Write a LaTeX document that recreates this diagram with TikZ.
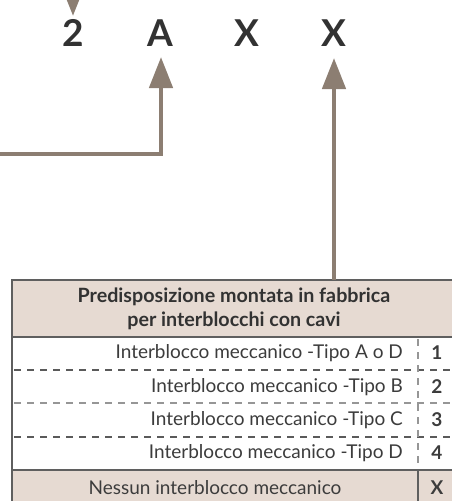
\documentclass[tikz,border=0pt]{standalone}
\usepackage{fontspec}
\setmainfont{Lato}
\usetikzlibrary{arrows.meta}
\definecolor{arrowc}{RGB}{140,126,114}
\definecolor{fillc}{RGB}{230,218,210}
\definecolor{borderc}{RGB}{95,95,95}
\definecolor{dashc}{RGB}{90,90,90}
\definecolor{dashl}{RGB}{150,150,150}
\definecolor{txtc}{RGB}{60,60,60}
\definecolor{codec}{RGB}{50,50,50}
\tikzset{
  codechar/.style={font=\fontsize{37}{40}\selectfont\bfseries, text=codec, inner sep=0pt},
  conn/.style={draw=arrowc, line width=4.5pt, line join=miter, -{Triangle[width=23pt,length=31pt]}},
  rowtxt/.style={anchor=east, font=\fontsize{19}{22}\selectfont, text=txtc, inner sep=0pt},
  numtxt/.style={font=\fontsize{19}{22}\selectfont\bfseries, text=txtc, inner sep=0pt},
  hdrtxt/.style={align=center, font=\fontsize{19.7}{24}\selectfont\bfseries, text=codec, inner sep=0pt},
  solidline/.style={draw=borderc, line width=2pt},
  dashline/.style={draw=dashc, line width=1.3pt, dash pattern=on 7pt off 6pt},
  dashlight/.style={draw=dashl, line width=1.3pt, dash pattern=on 7pt off 6pt}
}
\begin{document}
\begin{tikzpicture}[x=1pt,y=1pt]
\clip (0,0) rectangle (452,-501);
\fill[white] (0,0) rectangle (452,-501);
% code characters
\node[codechar] (c2) at (73,-33) {2};
\node[codechar] (cA) at (160,-33) {A};
\node[codechar] (cX1) at (247,-33) {X};
\node[codechar] (cX2) at (334,-33) {X};
% table backgrounds
\fill[fillc] (12,-280) rectangle (460,-337);
\fill[fillc] (12,-470) rectangle (460,-510);
% table lines
\draw[dashline] (14,-370) -- (460,-370);
\draw[dashlight] (14,-403) -- (460,-403);
\draw[dashline] (14,-437) -- (460,-437);
\draw[dashlight] (418,-339) -- (418,-469);
\draw[solidline] (418,-470) -- (418,-510);
\draw[solidline] (12,-280) -- (460,-280);
\draw[solidline] (12,-337) -- (460,-337);
\draw[solidline] (12,-470) -- (460,-470);
\draw[solidline] (12,-279) -- (12,-510);
% header
\node[hdrtxt] (hdr) at (234,-309) {Predisposizione montata in fabbrica\\per interblocchi con cavi};
\coordinate (hdrtop) at (334,-280);
% rows
\node[rowtxt] (r1) at (403,-353) {Interblocco meccanico -Tipo A o D};
\node[rowtxt] (r2) at (403,-387) {Interblocco meccanico -Tipo B};
\node[rowtxt] (r3) at (403,-420) {Interblocco meccanico -Tipo C};
\node[rowtxt] (r4) at (403,-453) {Interblocco meccanico -Tipo D};
\node[rowtxt, anchor=center] (r5) at (215,-488) {Nessun interblocco meccanico};
\node[numtxt] (n1) at (437,-353) {1};
\node[numtxt] (n2) at (437,-387) {2};
\node[numtxt] (n3) at (437,-420) {3};
\node[numtxt] (n4) at (437,-453) {4};
\node[numtxt] (n5) at (437,-488) {X};
% connectors
\coordinate (top2) at (73,40);
\coordinate (leftA) at (-5,-154);
\draw[conn] (top2) -- (73,-16);
\draw[conn] (leftA) -| (161,-57);
\draw[conn] (hdrtop) -- (334,-58);
\end{tikzpicture}
\end{document}
